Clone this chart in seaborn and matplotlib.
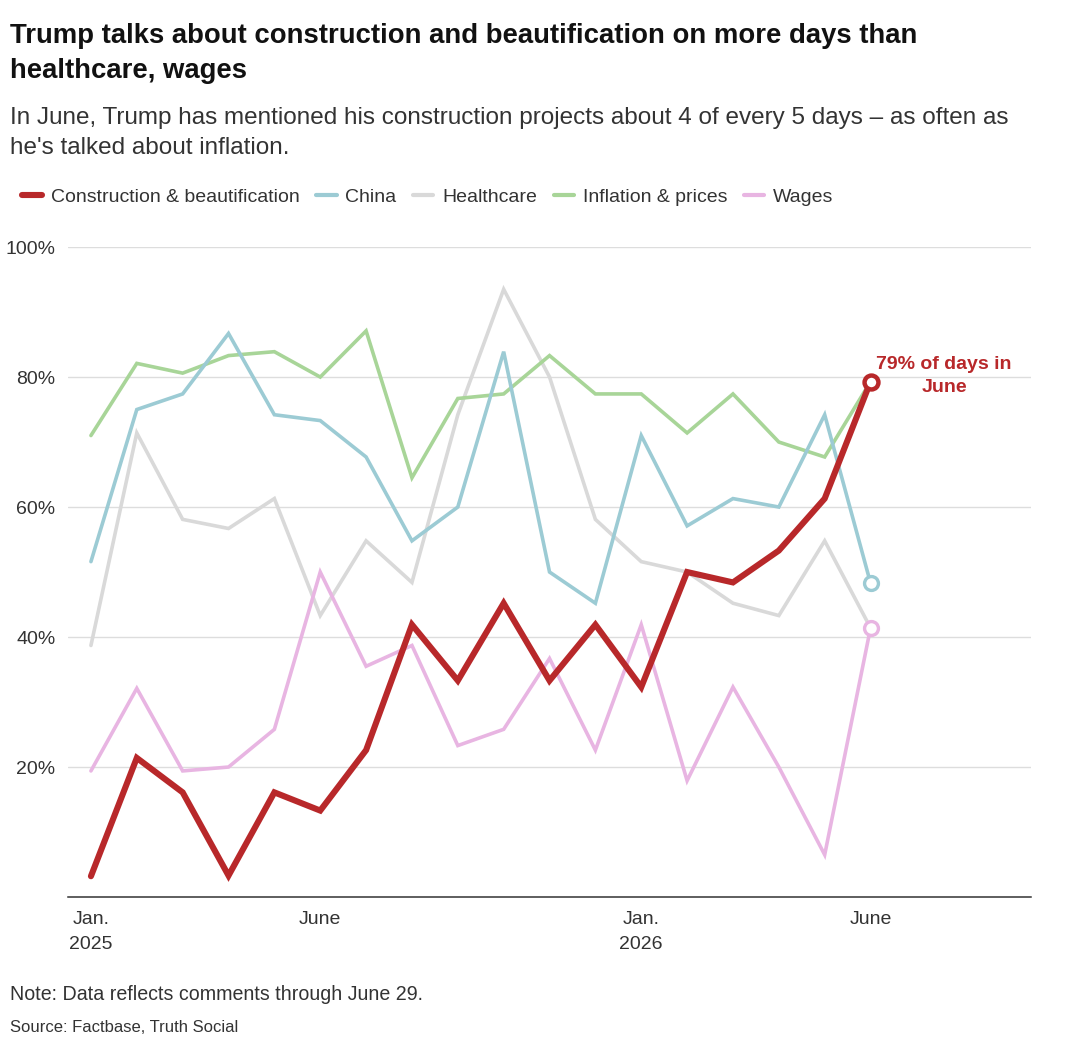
import pandas as pd
import numpy as np
import matplotlib.pyplot as plt
import seaborn as sns
from matplotlib.lines import Line2D

# Monthly share of days each topic came up (Jan 2025 - June 2026)
months = ["2025-01", "2025-02", "2025-03", "2025-04", "2025-05", "2025-06",
          "2025-07", "2025-08", "2025-09", "2025-10", "2025-11", "2025-12",
          "2026-01", "2026-02", "2026-03", "2026-04", "2026-05", "2026-06"]

construction = [3.2, 21.4, 16.1, 3.3, 16.1, 13.3, 22.6, 41.9, 33.3, 45.2, 33.3, 41.9,
                32.3, 50.0, 48.4, 53.3, 61.3, 79.3]
china = [51.6, 75.0, 77.4, 86.7, 74.2, 73.3, 67.7, 54.8, 60.0, 83.9, 50.0, 45.2,
         71.0, 57.1, 61.3, 60.0, 74.2, 48.3]
healthcare = [38.7, 71.4, 58.1, 56.7, 61.3, 43.3, 54.8, 48.4, 74.2, 93.5, 80.0, 58.1,
              51.6, 50.0, 45.2, 43.3, 54.8, 41.4]
inflation = [71.0, 82.1, 80.6, 83.3, 83.9, 80.0, 87.1, 64.5, 76.7, 77.4, 83.3, 77.4,
             77.4, 71.4, 77.4, 70.0, 67.7, 79.3]
wages = [19.4, 32.1, 19.4, 20.0, 25.8, 50.0, 35.5, 38.7, 23.3, 25.8, 36.7, 22.6,
         41.9, 17.9, 32.3, 20.0, 6.5, 41.4]

tick_pos = [0, 5, 12, 17]
tick_labels = ["Jan.\n2025", "June", "Jan.\n2026", "June"]
y_ticks = [20, 40, 60, 80, 100]

series = {
    "Construction & beautification": construction,
    "China": china,
    "Healthcare": healthcare,
    "Inflation & prices": inflation,
    "Wages": wages,
}
colors = {
    "Construction & beautification": "#b8282a",
    "China": "#9ccbd4",
    "Healthcare": "#d9d9d9",
    "Inflation & prices": "#a8d598",
    "Wages": "#e8b5e2",
}
widths = {"Construction & beautification": 4.4}
draw_order = ["Healthcare", "Wages", "Inflation & prices", "China",
              "Construction & beautification"]
end_markers = ["China", "Wages", "Construction & beautification"]

df = pd.DataFrame({"month": months})
df["idx"] = np.arange(len(months))
for name, vals in series.items():
    df[name] = vals

sns.set_style("white")
plt.rcParams["font.family"] = ["Liberation Sans", "DejaVu Sans"]

fig = plt.figure(figsize=(10.71, 10.45), dpi=100)
ax = fig.add_axes([0.0635, 0.1416, 0.8992, 0.6220])

for i, name in enumerate(draw_order):
    sns.lineplot(data=df, x="idx", y=name, ax=ax, color=colors[name],
                 linewidth=widths.get(name, 2.6), zorder=3 + i,
                 solid_joinstyle="miter", clip_on=False)
    if name in end_markers:
        ax.plot(df["idx"].iloc[-1], df[name].iloc[-1], marker="o", ms=10,
                mfc="white", mec=colors[name],
                mew=3.2 if name.startswith("Construction") else 2.4,
                zorder=10 + i, clip_on=False)

ax.set_xlim(-0.5, 20.5)
ax.set_ylim(0, 100)
ax.set_xticks(tick_pos)
ax.set_xticklabels(tick_labels, fontsize=14, color="#333333", linespacing=1.6)
ax.set_yticks(y_ticks)
ax.set_yticklabels([f"{v}%" for v in y_ticks], fontsize=14, color="#333333")
ax.tick_params(axis="both", length=0)
ax.tick_params(axis="x", pad=10)
ax.tick_params(axis="y", pad=9)
ax.set_xlabel("")
ax.set_ylabel("")
ax.grid(axis="y", color="#dddddd", linewidth=1)
ax.grid(axis="x", visible=False)
for s in ["top", "right", "left"]:
    ax.spines[s].set_visible(False)
ax.spines["bottom"].set_color("#333333")
ax.spines["bottom"].set_linewidth(1.1)

ax.annotate("79% of days in\nJune", xy=(17, construction[-1]),
            xytext=(53, 4), textcoords="offset points", ha="center", va="center",
            fontsize=14, fontweight="bold", color="#b8282a", linespacing=1.5)

# header
fig.text(0.0093, 1 - 23 / 1045,
         "Trump talks about construction and beautification on more days than\nhealthcare, wages",
         fontsize=19.8, fontweight="bold", color="#111111", va="top", linespacing=1.46)
fig.text(0.0093, 1 - 107 / 1045,
         "In June, Trump has mentioned his construction projects about 4 of every 5 days – as often as\nhe's talked about inflation.",
         fontsize=17.5, color="#333333", va="top", linespacing=1.46)

handles = [Line2D([0], [0], color=colors[n], lw=4.4 if n in widths else 3,
                  solid_capstyle="round") for n in series]
fig.legend(handles, list(series.keys()), loc="center left",
           bbox_to_anchor=(0.004, 1 - 197 / 1045), ncol=5, frameon=False,
           fontsize=14, handlelength=1.05, handletextpad=0.45, columnspacing=0.85,
           labelcolor="#333333")

fig.text(0.0093, 1 - 995 / 1045, "Note: Data reflects comments through June 29.",
         fontsize=14.1, color="#333333", va="center")
fig.text(0.0093, 1 - 1028 / 1045, "Source: Factbase, Truth Social",
         fontsize=12, color="#333333", va="center")

fig.savefig("out.png", dpi=100)
